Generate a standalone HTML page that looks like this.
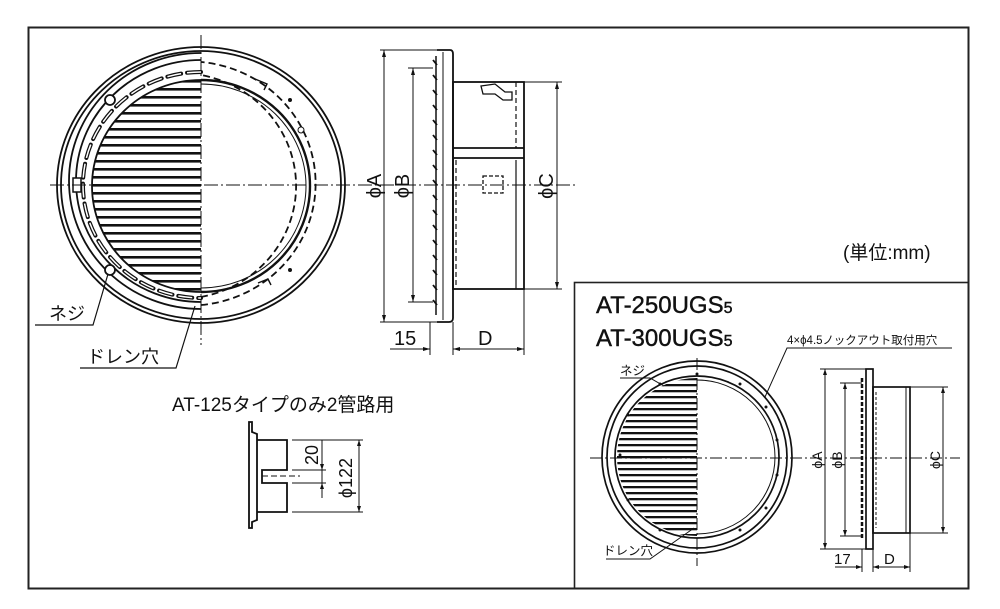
<!DOCTYPE html>
<html><head><meta charset="utf-8"><style>
html,body{margin:0;padding:0;background:#fff;}
svg{display:block;}
text{font-family:"Liberation Sans","Noto Sans CJK JP",sans-serif;fill:#111;}
</style></head><body>
<svg width="1000" height="609" viewBox="0 0 1000 609" xmlns="http://www.w3.org/2000/svg">
<defs>
<clipPath id="g1"><path d="M201,80 A109,106 0 0 0 201,292 Z"/></clipPath>
<clipPath id="g2"><path d="M697,378 A80,79 0 0 0 697,536 Z"/></clipPath>
<pattern id="hl" width="10" height="8" patternUnits="userSpaceOnUse"><rect width="10" height="8" fill="#fff"/><rect y="0" width="10" height="2.6" fill="#111"/></pattern>
<pattern id="hl2" width="10" height="6" patternUnits="userSpaceOnUse"><rect width="10" height="6" fill="#fff"/><rect y="0" width="10" height="2.3" fill="#111"/></pattern>
</defs>
<rect x="28.5" y="27.5" width="940" height="561" fill="none" stroke="#222" stroke-width="2"/>
<rect x="574.5" y="282.5" width="394" height="306" fill="none" stroke="#222" stroke-width="1.6"/>

<!-- main front view -->
<g fill="none" stroke="#111" stroke-width="1.8">
<ellipse cx="201" cy="185" rx="144" ry="138"/>
<ellipse cx="201" cy="185" rx="140" ry="134"/>
<path d="M201,53 A132,128 0 0 0 201,309"/>
<path d="M201,60 A125,121 0 0 0 201,302"/>
<path d="M201,305 A126,122 0 0 0 201,62" stroke-dasharray="7,4"/>
<path d="M201,297 A117,113 0 0 0 201,75" stroke-dasharray="7,4"/>
<path d="M201,80 A109,106 0 0 1 201,292" stroke-width="2.4"/>
<path d="M201,84 A105,102 0 0 1 201,288" stroke-width="1"/>
</g>
<rect x="90" y="80" width="111" height="212" fill="url(#hl)" clip-path="url(#g1)"/>
<path d="M201,80 A109,106 0 0 0 201,292" fill="none" stroke="#111" stroke-width="1.8"/>
<g fill="none" stroke="#111" stroke-width="4" stroke-dasharray="14,6" stroke-linecap="round">
<path d="M201,72 A117,112 0 0 0 201,298"/>
</g>
<g fill="none" stroke="#fff" stroke-width="1.5" stroke-dasharray="14,6">
<path d="M201,72 A117,112 0 0 0 201,298"/>
</g>
<circle cx="110" cy="100" r="5" fill="#fff" stroke="#111" stroke-width="1.8"/>
<circle cx="110" cy="270" r="5" fill="#fff" stroke="#111" stroke-width="1.8"/>
<rect x="73" y="178" width="8" height="14" fill="#fff" stroke="#111" stroke-width="1.5"/>
<circle cx="290" cy="100" r="2" fill="#111"/><circle cx="290" cy="270" r="2" fill="#111"/>
<circle cx="301" cy="130" r="3" fill="none" stroke="#111"/>
<path d="M255,79 l12,5 l-3,6 M258,283 l10,-4 l3,6" fill="none" stroke="#111" stroke-width="1.4"/>
<g stroke="#111" stroke-width="1" stroke-dasharray="14,3,2,3" fill="none">
<line x1="201" y1="35" x2="201" y2="345"/>
<line x1="50" y1="185" x2="575" y2="185"/>
</g>
<g stroke="#111" stroke-width="1.2" fill="none">
<polyline points="35,325 93,325 108,274"/>
<polyline points="80,368 176,368 195,306"/>
</g>
<text x="49" y="320" font-size="18">ネジ</text>
<text x="87" y="363" font-size="18">ドレン穴</text>

<!-- main side view -->
<g fill="none" stroke="#111" stroke-width="1.8">
<path d="M437,50 L450,50 Q453,50 453,54 L453,318 Q453,322 449,322 L437,322"/>
<line x1="443" y1="52" x2="443" y2="320" stroke-width="1"/>
<rect x="453" y="82" width="71" height="207"/>
<line x1="453" y1="148" x2="524" y2="148"/>
<line x1="453" y1="158" x2="524" y2="158"/>
<line x1="516" y1="82" x2="516" y2="148" stroke-dasharray="5,3" stroke-width="1.2"/>
<line x1="456" y1="160" x2="456" y2="285" stroke-dasharray="5,3" stroke-width="1.2"/>
<line x1="516" y1="160" x2="516" y2="289" stroke-width="1.2"/>
<path d="M481,86 l14,-2 l10,8 l7,0 l0,8 l-9,0 l-8,-6 l-12,0 z" stroke-width="1.3"/>
<rect x="483" y="176" width="20" height="17" stroke-dasharray="4,2" stroke-width="1.3"/>
</g>
<g stroke="#111" stroke-width="1.8" fill="none">
<path d="M433,60 l4,5 M433,75 l4,5 M433,90 l4,5 M433,105 l4,5 M433,120 l4,5 M433,135 l4,5 M433,150 l4,5 M433,165 l4,5 M433,180 l4,5 M433,195 l4,5 M433,210 l4,5 M433,225 l4,5 M433,240 l4,5 M433,255 l4,5 M433,270 l4,5 M433,285 l4,5 M433,300 l4,5"/>
<line x1="436" y1="56" x2="436" y2="315" stroke-width="1.5"/>
</g>
<g stroke="#111" stroke-width="1" fill="none">
<line x1="380" y1="50" x2="437" y2="50"/><line x1="380" y1="322" x2="437" y2="322"/>
<line x1="384" y1="50" x2="384" y2="322"/>
<line x1="408" y1="68" x2="433" y2="68"/><line x1="408" y1="302" x2="433" y2="302"/>
<line x1="413" y1="68" x2="413" y2="302"/>
<line x1="524" y1="82" x2="562" y2="82"/><line x1="524" y1="289" x2="562" y2="289"/>
<line x1="557" y1="82" x2="557" y2="289"/>
<line x1="430" y1="322" x2="430" y2="355"/><line x1="453" y1="322" x2="453" y2="355"/><line x1="524" y1="289" x2="524" y2="355"/>
<line x1="390" y1="349" x2="430" y2="349"/><line x1="453" y1="349" x2="524" y2="349"/>
</g>
<g fill="#111">
<path d="M384,50 l-2,7 h4z M384,322 l-2,-7 h4z M413,68 l-2,7 h4z M413,302 l-2,-7 h4z M557,82 l-2,7 h4z M557,289 l-2,-7 h4z M430,349 l-7,-2 v4z M453,349 l7,-2 v4z M524,349 l-7,-2 v4z"/>
</g>
<text font-size="20" transform="translate(381,186) rotate(-90)" text-anchor="middle">ϕA</text>
<text font-size="20" transform="translate(409,186) rotate(-90)" text-anchor="middle">ϕB</text>
<text font-size="20" transform="translate(553,186) rotate(-90)" text-anchor="middle">ϕC</text>
<text x="394" y="345" font-size="20">15</text>
<text x="478" y="345" font-size="20">D</text>

<!-- AT-125 -->
<text x="172" y="411" font-size="19">AT-125タイプのみ2管路用</text>
<g fill="none" stroke="#111" stroke-width="1.8">
<path d="M249,422 L252,422 L252,432 L257,434 L257,520 L252,522 L252,528 L249,528 Z"/>
<path d="M257,440 H287 V470 H262 V483 H287 V512 H257"/>
<line x1="262" y1="476" x2="300" y2="476" stroke-width="1" stroke-dasharray="6,3"/>
</g>
<g stroke="#111" stroke-width="1" fill="none">
<line x1="292" y1="440" x2="363" y2="440"/><line x1="292" y1="470" x2="326" y2="470"/><line x1="292" y1="483" x2="326" y2="483"/><line x1="292" y1="512" x2="363" y2="512"/>
<line x1="322" y1="440" x2="322" y2="498"/><line x1="359" y1="440" x2="359" y2="512"/>
</g>
<path d="M322,470 l-2,-6 h4z M322,483 l-2,6 h4z M359,440 l-2,6 h4z M359,512 l-2,-6 h4z" fill="#111"/>
<text font-size="18" transform="translate(318,455) rotate(-90)" text-anchor="middle">20</text>
<text font-size="18" transform="translate(352,478) rotate(-90)" text-anchor="middle">ϕ122</text>

<text x="843" y="259" font-size="19">(単位:mm)</text>

<!-- box -->
<text x="596" y="313" font-size="24" stroke="#111" stroke-width="0.4">AT-250UGS<tspan font-size="16">5</tspan></text>
<text x="596" y="346" font-size="24" stroke="#111" stroke-width="0.4">AT-300UGS<tspan font-size="16">5</tspan></text>
<text x="787" y="344" font-size="11.5">4×ϕ4.5ノックアウト取付用穴</text>
<polyline points="952,348 787,348 765,397" fill="none" stroke="#111" stroke-width="1"/>

<g fill="none" stroke="#111" stroke-width="1.7">
<ellipse cx="697" cy="457" rx="95" ry="96"/>
<ellipse cx="697" cy="457" rx="90" ry="91"/>
<ellipse cx="697" cy="457" rx="82" ry="81"/>
<ellipse cx="697" cy="457" rx="78" ry="77" stroke-width="1"/>
</g>
<rect x="615" y="378" width="82" height="158" fill="url(#hl2)" clip-path="url(#g2)"/>
<g fill="#111">
<circle cx="697" cy="374" r="1.5"/><circle cx="740" cy="384" r="1.5"/><circle cx="766" cy="407" r="1.5"/><circle cx="777" cy="440" r="1.5"/><circle cx="777" cy="475" r="1.5"/><circle cx="766" cy="508" r="1.5"/><circle cx="740" cy="530" r="1.5"/><circle cx="660" cy="384" r="1.5"/><circle cx="628" cy="415" r="1.5"/><circle cx="620" cy="455" r="1.5"/><circle cx="628" cy="500" r="1.5"/><circle cx="660" cy="530" r="1.5"/>
</g>
<g stroke="#111" stroke-width="1" stroke-dasharray="12,3,2,3" fill="none">
<line x1="697" y1="358" x2="697" y2="566"/>
<line x1="590" y1="458" x2="960" y2="458"/>
</g>
<polyline points="620,378 650,378 664,386" fill="none" stroke="#111" stroke-width="1"/>
<polyline points="606,559 650,559 694,528" fill="none" stroke="#111" stroke-width="1"/>
<text x="620" y="375" font-size="12.5">ネジ</text>
<text x="603" y="555" font-size="12.5">ドレン穴</text>

<g fill="none" stroke="#111" stroke-width="1.7">
<rect x="866" y="369" width="7" height="180"/>
<line x1="862" y1="378" x2="862" y2="540" stroke-width="2.5" stroke-dasharray="4,2"/>
<rect x="873" y="387" width="37" height="146"/>
<line x1="906" y1="387" x2="906" y2="533" stroke-width="1"/>
<line x1="876" y1="392" x2="876" y2="528" stroke-width="1" stroke-dasharray="3,2"/>
</g>
<g stroke="#111" stroke-width="1" fill="none">
<line x1="820" y1="369" x2="866" y2="369"/><line x1="820" y1="549" x2="866" y2="549"/><line x1="825" y1="369" x2="825" y2="549"/>
<line x1="840" y1="383" x2="862" y2="383"/><line x1="840" y1="536" x2="862" y2="536"/><line x1="845" y1="383" x2="845" y2="536"/>
<line x1="910" y1="387" x2="948" y2="387"/><line x1="910" y1="533" x2="948" y2="533"/><line x1="943" y1="387" x2="943" y2="533"/>
<line x1="862" y1="549" x2="862" y2="572"/><line x1="873" y1="549" x2="873" y2="572"/><line x1="910" y1="533" x2="910" y2="572"/>
<line x1="835" y1="567" x2="862" y2="567"/><line x1="873" y1="567" x2="910" y2="567"/>
</g>
<path d="M825,369 l-2,6 h4z M825,549 l-2,-6 h4z M845,383 l-2,6 h4z M845,536 l-2,-6 h4z M943,387 l-2,6 h4z M943,533 l-2,-6 h4z M862,567 l-6,-2 v4z M873,567 l6,-2 v4z M910,567 l-6,-2 v4z" fill="#111"/>
<text font-size="14" transform="translate(822,460) rotate(-90)" text-anchor="middle">ϕA</text>
<text font-size="14" transform="translate(842,460) rotate(-90)" text-anchor="middle">ϕB</text>
<text font-size="14" transform="translate(940,460) rotate(-90)" text-anchor="middle">ϕC</text>
<text x="834" y="564" font-size="15">17</text>
<text x="884" y="564" font-size="15">D</text>
</svg>
</body></html>
